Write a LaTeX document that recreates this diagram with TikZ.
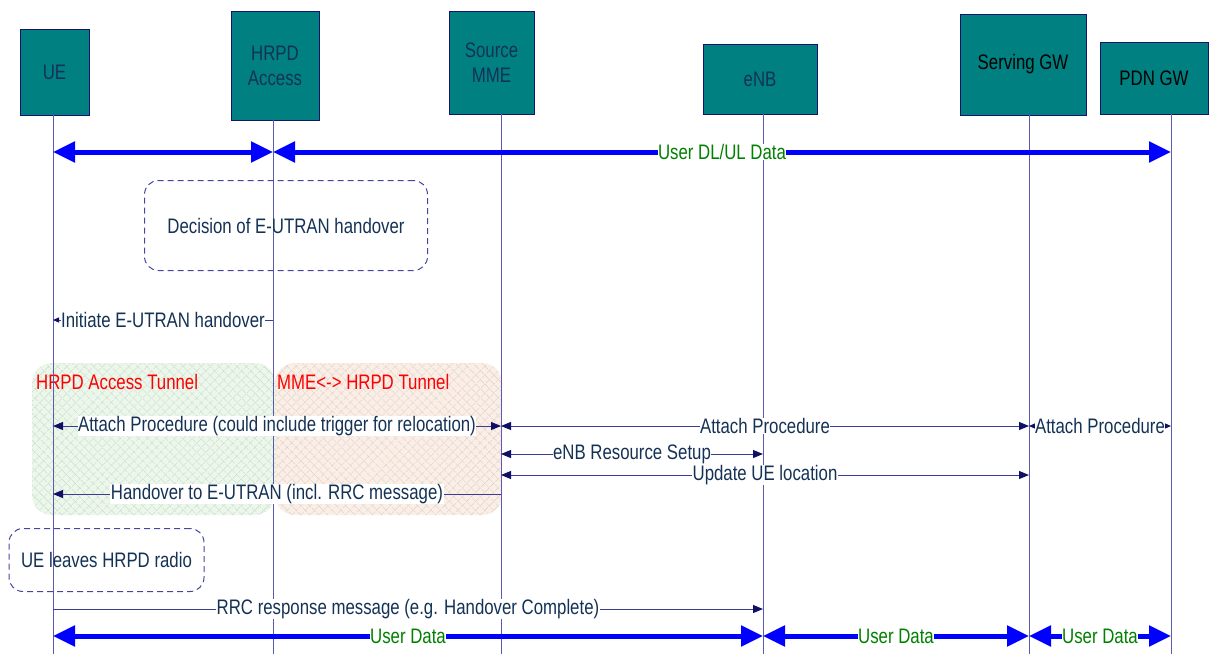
\documentclass[tikz,border=0pt]{standalone}
\usepackage{fontspec}
\setmainfont{Liberation Sans}[FakeStretch=0.8]
\usetikzlibrary{arrows.meta,patterns.meta}

\definecolor{boxfill}{RGB}{0,128,128}
\definecolor{boxline}{RGB}{20,20,110}
\definecolor{lifecol}{RGB}{90,90,175}
\definecolor{msgcol}{RGB}{60,60,150}
\definecolor{tipcol}{RGB}{15,15,100}
\definecolor{txtcol}{RGB}{20,50,85}
\definecolor{notecol}{RGB}{70,70,160}
\definecolor{datagreen}{RGB}{0,128,0}
\definecolor{tungreen}{RGB}{234,248,234}
\definecolor{tunorange}{RGB}{252,238,228}
\definecolor{hatch}{RGB}{200,200,200}

\tikzset{
  msgtip/.tip={Triangle[length=10pt,width=8pt,color=tipcol]},
  smalltip/.tip={Triangle[length=6pt,width=5pt,color=tipcol]},
  datatip/.tip={Triangle[length=22pt,width=20pt,color=blue]},
  entitybox/.style={draw=boxline, line width=1pt, fill=boxfill, text=txtcol, align=center, inner sep=0pt},
  lifeline/.style={draw=lifecol, line width=1pt},
  msgarrow/.style={draw=msgcol, line width=1pt},
  datarrow/.style={draw=blue, line width=5pt},
  msglabel/.style={fill=white, text=txtcol, inner sep=0.5pt},
  datalabel/.style={fill=white, text=datagreen, inner sep=0.5pt},
  notebox/.style={draw=notecol, line width=1pt, dash pattern=on 6pt off 4pt,
    rounded corners=14pt, text=txtcol},
  tunnelarea/.style={rounded corners=20pt},
  hatchne/.style={pattern={Lines[angle=45,distance=6.5pt,line width=0.6pt]}, pattern color=hatch},
  hatchnw/.style={pattern={Lines[angle=-45,distance=6.5pt,line width=0.6pt]}, pattern color=hatch},
  tunnellabel/.style={text=red, anchor=west, inner sep=0pt}
}

\begin{document}
\begin{tikzpicture}[x=1pt, y=-1pt, font=\fontsize{21}{25}\selectfont]
  \useasboundingbox (0,0) rectangle (1210,654);

  % tunnels
  \fill[tungreen, tunnelarea] (32,363) rectangle (275,515);
  \fill[tunorange, tunnelarea] (275,363) rectangle (502,515);
  \foreach \h in {hatchne, hatchnw}
  {
    \path[tunnelarea, \h] (32,363) rectangle (275,515);
    \path[tunnelarea, \h] (275,363) rectangle (502,515);
  }
  \node[tunnellabel] (tun-hrpd) at (36,382) {HRPD Access Tunnel};
  \node[tunnellabel] (tun-mme) at (277,382) {MME<-> HRPD Tunnel};

  % entities
  \node[entitybox, minimum width=69pt, minimum height=86pt] (ue-box) at (54.5,72) {UE};
  \node[entitybox, minimum width=88pt, minimum height=109pt] (hrpd-box) at (275,65.5) {HRPD\\Access};
  \node[entitybox, minimum width=85pt, minimum height=103pt] (mme-box) at (491.5,62.5) {Source\\MME};
  \node[entitybox, minimum width=114pt, minimum height=70pt] (enb-box) at (760,79) {eNB};
  \node[entitybox, minimum width=126pt, minimum height=101pt, text=black] (sgw-box) at (1023,64.5) {Serving GW};
  \node[entitybox, minimum width=108pt, minimum height=72pt, text=black] (pdn-box) at (1154,78) {PDN GW};

  % lifelines
  \coordinate (bottom) at (0,654);
  \foreach \n/\x/\y in {ue/53/115, hrpd/273/120, mme/501/114, enb/763/114, sgw/1029/115, pdn/1171/114}
  {
    \coordinate (\n) at (\x,\y);
    \draw[lifeline] (\n) -- (\n |- bottom);
  }

  % rows
  \foreach \r/\y in {r1/152, r2/320, r3/426, r4/454, r5/475, r6/494, r7/609, r8/636}
    \coordinate (\r) at (0,\y);

  % notes
  \node[notebox, minimum width=283pt, minimum height=90pt] (decision) at (286,225.5) {Decision of E-UTRAN handover};
  \node[notebox, minimum width=195pt, minimum height=63pt] (leaves) at (106.5,560) {UE leaves HRPD radio};

  % messages
  \draw[datarrow, datatip-datatip] (ue |- r1) -- (hrpd |- r1);
  \draw[datarrow, datatip-datatip] (hrpd |- r1) -- node[datalabel]{User DL/UL Data} (pdn |- r1);
  \draw[msgarrow, -smalltip] (hrpd |- r2) -- node[msglabel]{Initiate E-UTRAN handover} (ue |- r2);
  \draw[msgarrow, msgtip-msgtip] (ue |- r3) -- node[msglabel]{Attach Procedure (could include trigger for relocation)} (mme |- r3);
  \draw[msgarrow, msgtip-msgtip] (mme |- r3) -- node[msglabel]{Attach Procedure} (sgw |- r3);
  \draw[msgarrow, smalltip-smalltip] (sgw |- r3) -- node[msglabel]{Attach Procedure} (pdn |- r3);
  \draw[msgarrow, msgtip-msgtip] (mme |- r4) -- node[msglabel]{eNB Resource Setup} (enb |- r4);
  \draw[msgarrow, msgtip-msgtip] (mme |- r5) -- node[msglabel]{Update UE location} (sgw |- r5);
  \draw[msgarrow, -msgtip] (mme |- r6) -- node[msglabel]{Handover to E-UTRAN (incl. RRC message)} (ue |- r6);
  \draw[msgarrow, -msgtip] (ue |- r7) -- node[msglabel]{RRC response message (e.g. Handover Complete)} (enb |- r7);
  \draw[datarrow, datatip-datatip] (ue |- r8) -- node[datalabel]{User Data} (enb |- r8);
  \draw[datarrow, datatip-datatip] (enb |- r8) -- node[datalabel]{User Data} (sgw |- r8);
  \draw[datarrow, datatip-datatip] (sgw |- r8) -- node[datalabel]{User Data} (pdn |- r8);
\end{tikzpicture}
\end{document}
